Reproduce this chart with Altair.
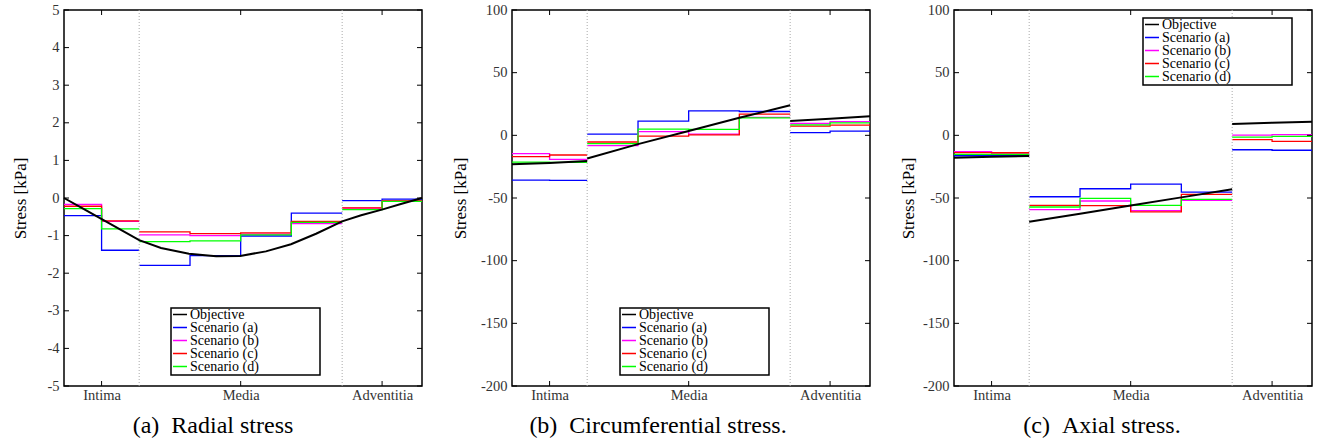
import altair as alt
import pandas as pd

SERIF = "Liberation Serif, Times New Roman, serif"

SERIES = ["Objective", "Scenario (a)", "Scenario (b)", "Scenario (c)", "Scenario (d)"]
COLORS = ["#000000", "#0000ff", "#ff00ff", "#ff0000", "#00ff00"]
LAYERS = ["Intima", "Media", "Adventitia"]

# element edges (normalised radial position through the wall)
INTIMA_EDGES = [0.0, 0.105, 0.21]
MEDIA_EDGES = [0.21, 0.352, 0.4935, 0.635, 0.777]
ADVENTITIA_EDGES = [0.777, 0.8885, 1.0]
LAYER_CENTRES = [0.105, 0.4935, 0.8885]
BOUNDARIES = [0.21, 0.777]

# ---------------- (a) radial stress ----------------
radial_obj_x = [0.0, 0.047, 0.103, 0.159, 0.21, 0.271, 0.349, 0.425, 0.492,
                0.564, 0.634, 0.704, 0.777, 0.830, 0.888, 0.941, 1.0]
radial_obj_y = [0.0, -0.25, -0.55, -0.85, -1.12, -1.33, -1.48, -1.55, -1.54,
                -1.42, -1.23, -0.95, -0.62, -0.46, -0.31, -0.16, 0.0]
radial_a = [-0.47, -1.39, -1.79, -1.53, -1.01, -0.40, -0.07, -0.03]
radial_b = [-0.17, -0.62, -0.98, -1.00, -0.96, -0.68, -0.27, -0.08]
radial_c = [-0.22, -0.61, -0.90, -0.95, -0.93, -0.62, -0.26, -0.08]
radial_d = [-0.28, -0.82, -1.16, -1.14, -0.98, -0.65, -0.31, -0.09]
radial_ticks = [-5, -4, -3, -2, -1, 0, 1, 2, 3, 4, 5]

# ---------------- (b) circumferential stress ----------------
circ_obj_intima = [-23.0, -22.0, -20.5]
circ_obj_media = [-18.5, -7.0, 3.4, 14.0, 24.0]
circ_obj_adventitia = [11.4, 13.3, 15.2]
circ_a = [-35.7, -36.0, 1.0, 11.4, 19.5, 19.0, 2.1, 3.4]
circ_b = [-14.6, -19.2, -8.2, 3.0, 1.0, 14.3, 9.5, 11.0]
circ_c = [-17.0, -15.7, -5.3, -0.6, 0.3, 17.0, 7.4, 8.2]
circ_d = [-21.3, -21.5, -6.6, 5.0, 4.7, 14.0, 8.4, 10.0]

# ---------------- (c) axial stress ----------------
axial_obj_intima = [-17.8, -17.1, -16.5]
axial_obj_media = [-69.0, -62.5, -56.0, -49.5, -43.0]
axial_obj_adventitia = [9.0, 10.0, 10.9]
axial_a = [-16.3, -16.0, -49.0, -42.6, -38.9, -45.3, -11.5, -11.9]
axial_b = [-13.0, -14.2, -59.3, -52.4, -60.0, -51.9, 0.2, 0.6]
axial_c = [-13.8, -13.9, -55.9, -56.1, -61.0, -47.1, -3.5, -4.8]
axial_d = [-15.2, -15.2, -57.2, -50.3, -55.9, -51.1, -1.4, -0.8]
stress_ticks = [-200, -150, -100, -50, 0, 50, 100]

EDGE_SETS = [INTIMA_EDGES, MEDIA_EDGES, ADVENTITIA_EDGES]
W, H = 358, 376
PAD = "\u2007" * 8 + "\u2008\u200b"


def step_rows(name, values):
    rows = []
    k = 0
    for li, edges in enumerate(EDGE_SETS):
        n = len(edges) - 1
        vals = values[k:k + n]
        k += n
        for j, x in enumerate(edges):
            rows.append({"x": x, "y": vals[min(j, n - 1)], "series": name, "seg": f"{name}-{li}"})
    return rows


def obj_rows(segments):
    rows = []
    for si, (xs, ys) in enumerate(segments):
        for x, y in zip(xs, ys):
            rows.append({"x": x, "y": y, "series": "Objective", "seg": f"obj-{si}"})
    return rows


def panel(obj_segments, scen, ydom, yvals, legx, legy, caption, cap_dx, title_pad):
    xs = alt.Scale(domain=[0, 1], nice=False, zero=False)
    ys = alt.Scale(domain=ydom, nice=False, zero=False)
    legend = alt.Legend(
        title=None, orient="none", legendX=legx, legendY=legy,
        symbolType="stroke", symbolSize=196, symbolStrokeWidth=1.5,
        labelFont=SERIF, labelFontSize=14, labelColor="black", labelOffset=2,
        rowPadding=-2, clipHeight=11, padding=1, strokeColor="black", fillColor="white",
        labelLimit=400,
        labelExpr="datum.label + '" + PAD + "'",
    )
    color = alt.Color("series:N", scale=alt.Scale(domain=SERIES, range=COLORS), legend=legend)

    srows = []
    for name, vals in zip(SERIES[1:], scen):
        srows += step_rows(name, vals)
    sdf = pd.DataFrame(srows)
    odf = pd.DataFrame(obj_rows(obj_segments))

    xaxis = alt.Axis(values=LAYER_CENTRES, ticks=False, domain=False, grid=False, title=None,
                     labelExpr="datum.value < 0.3 ? 'Intima' : (datum.value < 0.7 ? 'Media' : 'Adventitia')",
                     labelFont=SERIF, labelFontSize=14.5, labelColor="#333", labelPadding=2)
    yaxis = alt.Axis(values=yvals, ticks=False, domain=False, grid=False,
                     labelExpr="'' + datum.value",
                     labelFont=SERIF, labelFontSize=14.5, labelColor="#333", labelPadding=5,
                     title="Stress [kPa]", titleFont=SERIF, titleFontSize=17, titleFontWeight="normal",
                     titleColor="black", titlePadding=title_pad)

    bdf = pd.DataFrame({"b": BOUNDARIES})
    scen_lines = alt.Chart(sdf).mark_line(interpolate="step-after", strokeWidth=1.3).encode(
        x=alt.X("x:Q", scale=xs, axis=xaxis),
        y=alt.Y("y:Q", scale=ys, axis=yaxis),
        color=color,
        detail="seg:N",
    )
    bounds = alt.Chart(bdf).mark_rule(color="#aaaaaa", strokeDash=[1, 2], strokeWidth=1).encode(
        x=alt.X("b:Q", scale=xs, axis=xaxis))
    obj_line = alt.Chart(odf).mark_line(strokeWidth=2).encode(
        x=alt.X("x:Q", scale=xs, axis=xaxis),
        y=alt.Y("y:Q", scale=ys, axis=yaxis),
        color=color,
        detail="seg:N",
    )

    ytdf = pd.DataFrame({"v": yvals})
    xtdf = pd.DataFrame({"t": LAYER_CENTRES})
    tl = 5
    ytick_l = alt.Chart(ytdf).mark_rule(color="black", strokeWidth=1).encode(
        y=alt.Y("v:Q", scale=ys, axis=yaxis), x=alt.value(0), x2=alt.value(tl))
    ytick_r = alt.Chart(ytdf).mark_rule(color="black", strokeWidth=1).encode(
        y=alt.Y("v:Q", scale=ys, axis=yaxis), x=alt.value(W - tl), x2=alt.value(W))
    xtick_b = alt.Chart(xtdf).mark_rule(color="black", strokeWidth=1).encode(
        x=alt.X("t:Q", scale=xs, axis=xaxis), y=alt.value(H - tl), y2=alt.value(H))
    xtick_t = alt.Chart(xtdf).mark_rule(color="black", strokeWidth=1).encode(
        x=alt.X("t:Q", scale=xs, axis=xaxis), y=alt.value(0), y2=alt.value(tl))

    return alt.layer(scen_lines, bounds, obj_line, ytick_l, ytick_r, xtick_b, xtick_t).properties(
        width=W, height=H,
        title=alt.TitleParams(caption, orient="bottom", anchor="middle", dx=cap_dx, offset=12,
                              font=SERIF, fontSize=24, fontWeight="normal", color="black"),
    )


pa = panel([(radial_obj_x, radial_obj_y)],
           [radial_a, radial_b, radial_c, radial_d],
           [-5, 5], radial_ticks, 107, 298, "(a)\u2002Radial stress", -30, 17)
pb = panel([(INTIMA_EDGES, circ_obj_intima), (MEDIA_EDGES, circ_obj_media),
            (ADVENTITIA_EDGES, circ_obj_adventitia)],
           [circ_a, circ_b, circ_c, circ_d],
           [-200, 100], stress_ticks, 108, 298, "(b)\u2002Circumferential stress.", -33, 11)
pc = panel([(INTIMA_EDGES, axial_obj_intima), (MEDIA_EDGES, axial_obj_media),
            (ADVENTITIA_EDGES, axial_obj_adventitia)],
           [axial_a, axial_b, axial_c, axial_d],
           [-200, 100], stress_ticks, 189, 8, "(c)\u2002Axial stress.", -31, 5)

chart = alt.hconcat(pa, pb, pc, spacing=23).resolve_scale(
    x="independent", y="independent", color="independent"
).resolve_legend(color="independent").properties(
    padding={"left": 11, "top": 1, "right": 0, "bottom": 0},
    background="white",
).configure_view(stroke="black", strokeWidth=1.5).configure_legend(strokeWidth=1.5)

chart.save("out.html", embed_options={"renderer": "svg", "actions": False})
